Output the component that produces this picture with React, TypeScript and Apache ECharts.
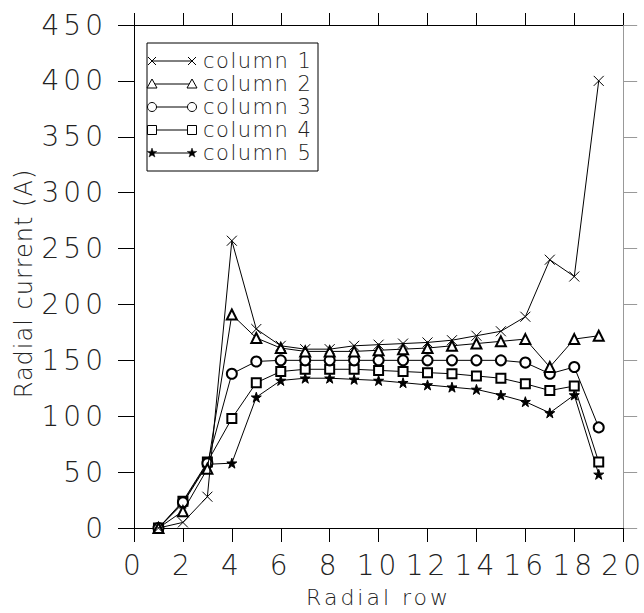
import React, { useEffect, useRef } from "react";
import * as echarts from "echarts";

const rows = [1, 2, 3, 4, 5, 6, 7, 8, 9, 10, 11, 12, 13, 14, 15, 16, 17, 18, 19];
const column1 = [0, 5, 28, 257, 178, 163, 160, 160, 163, 164, 165, 166, 168, 172, 176, 189, 240, 225, 400];
const column2 = [0, 15, 53, 191, 170, 161, 158, 158, 158, 159, 160, 161, 163, 165, 167, 169, 144, 169, 172];
const column3 = [0, 23, 58, 138, 149, 150, 150, 150, 150, 150, 150, 150, 150, 150, 150, 148, 138, 144, 90];
const column4 = [0, 24, 59, 98, 130, 140, 142, 142, 142, 141, 140, 139, 138, 136, 134, 129, 123, 127, 59];
const column5 = [0, 22, 57, 58, 117, 132, 134, 134, 133, 132, 130, 128, 126, 124, 119, 113, 103, 119, 48];
const seriesNames = ["column 1", "column 2", "column 3", "column 4", "column 5"];

const FONT = "DejaVu Sans";
const FW = 200;
const TXT = "#222";

const CROSS = "path://M0,0L10,10M10,0L0,10";
const STAR =
  "path://M5,0L6.2,3.6L10,3.6L6.9,5.9L8.1,9.5L5,7.3L1.9,9.5L3.1,5.9L0,3.6L3.8,3.6Z";

const symbols = [CROSS, "emptyTriangle", "emptyCircle", "emptyRect", STAR];
const symbolSizes = [10, 10, 10, 9, 10];

function starPoints(cx: number, cy: number, ro: number, ri: number) {
  const pts: number[][] = [];
  for (let i = 0; i < 10; i++) {
    const r = i % 2 === 0 ? ro : ri;
    const a = -Math.PI / 2 + (i * Math.PI) / 5;
    pts.push([cx + r * Math.cos(a), cy + r * Math.sin(a)]);
  }
  return pts;
}

function legendMarker(kind: number, cx: number, cy: number): any[] {
  const st = { stroke: "#000", lineWidth: 1, fill: "#fff" };
  if (kind === 0)
    return [
      { type: "line", shape: { x1: cx - 4, y1: cy - 4, x2: cx + 4, y2: cy + 4 }, style: { stroke: "#000", lineWidth: 1 } },
      { type: "line", shape: { x1: cx - 4, y1: cy + 4, x2: cx + 4, y2: cy - 4 }, style: { stroke: "#000", lineWidth: 1 } },
    ];
  if (kind === 1)
    return [{ type: "polygon", shape: { points: [[cx, cy - 5], [cx + 5, cy + 4], [cx - 5, cy + 4]] }, style: st }];
  if (kind === 2) return [{ type: "circle", shape: { cx, cy, r: 4.5 }, style: st }];
  if (kind === 3) return [{ type: "rect", shape: { x: cx - 4.5, y: cy - 4.5, width: 9, height: 9 }, style: st }];
  return [{ type: "polygon", shape: { points: starPoints(cx, cy, 5, 2) }, style: { fill: "#000", stroke: "#000", lineWidth: 0.5 } }];
}

function applyLetterSpacing(root: HTMLElement) {
  root.querySelectorAll("text").forEach((t) => {
    const s = (t.textContent || "").trim();
    let ls = 0;
    if (/^\d+$/.test(s)) ls = 4;
    else if (s === "Radial row") ls = 3;
    else if (s.startsWith("Radial current")) ls = 1;
    else if (s.startsWith("column")) ls = 1.5;
    if (ls) t.setAttribute("letter-spacing", String(ls));
  });
}

export default function App() {
  const ref = useRef<HTMLDivElement>(null);
  useEffect(() => {
    document.body.style.margin = "0";
    if (!ref.current) return;
    const chart = echarts.init(ref.current, null, { renderer: "svg" });
    const data = [column1, column2, column3, column4, column5];

    const rowY = [61, 84, 107, 130, 153];
    const graphics: any[] = [
      {
        type: "rect",
        shape: { x: 147, y: 43, width: 171, height: 128 },
        style: { fill: "#fff", stroke: "#000", lineWidth: 1 },
        z: 10,
      },
    ];
    seriesNames.forEach((name, i) => {
      const y = rowY[i];
      graphics.push({ type: "line", shape: { x1: 152, y1: y, x2: 192, y2: y }, style: { stroke: "#000", lineWidth: 1 }, z: 11 });
      legendMarker(i, 152, y).forEach((g) => graphics.push({ ...g, z: 12 }));
      legendMarker(i, 192, y).forEach((g) => graphics.push({ ...g, z: 12 }));
      graphics.push({
        type: "text",
        x: 203,
        y,
        style: { text: name, fontFamily: FONT, fontWeight: FW, fontSize: 21, fill: TXT, verticalAlign: "middle" },
        z: 12,
      });
    });

    chart.setOption({
      animation: false,
      backgroundColor: "#fff",
      grid: { left: 134, right: 17, top: 25, bottom: 75 },
      xAxis: [
        {
          type: "value",
          min: 0,
          max: 20,
          interval: 2,
          position: "bottom",
          name: "Radial row",
          nameLocation: "middle",
          nameGap: 58,
          nameTextStyle: { fontFamily: FONT, fontWeight: FW, fontSize: 22, color: TXT },
          axisLine: { show: true, onZero: false, lineStyle: { color: "#000", width: 1 } },
          axisTick: { show: true, inside: false, length: 14, lineStyle: { color: "#000" } },
          axisLabel: { fontFamily: FONT, fontWeight: FW, fontSize: 28, color: TXT, margin: 23 },
          splitLine: { show: false },
        },
        {
          type: "value",
          min: 0,
          max: 20,
          interval: 2,
          position: "top",
          axisLine: { show: true, onZero: false, lineStyle: { color: "#000", width: 1 } },
          axisTick: { show: true, inside: false, length: 12, lineStyle: { color: "#000" } },
          axisLabel: { show: false },
          splitLine: { show: false },
        },
      ],
      yAxis: [
        {
          type: "value",
          min: 0,
          max: 450,
          interval: 50,
          position: "left",
          name: "Radial current (A)",
          nameLocation: "middle",
          nameGap: 98,
          nameRotate: 90,
          nameTextStyle: { fontFamily: FONT, fontWeight: FW, fontSize: 24, color: TXT, padding: [0, 14, 0, 0] },
          axisLine: { show: true, onZero: false, lineStyle: { color: "#000", width: 1 } },
          axisTick: { show: true, inside: false, length: 16, lineStyle: { color: "#000" } },
          axisLabel: { fontFamily: FONT, fontWeight: FW, fontSize: 28, color: TXT, margin: 27, padding: [10, 0, 0, 0] },
          splitLine: { show: false },
        },
        {
          type: "value",
          min: 0,
          max: 450,
          interval: 50,
          position: "right",
          axisLine: { show: true, onZero: false, lineStyle: { color: "#999", width: 1 } },
          axisTick: { show: true, inside: false, length: 14, lineStyle: { color: "#999" } },
          axisLabel: { show: false },
          splitLine: { show: false },
        },
      ],
      series: seriesNames.map((name, i) => ({
        type: "line",
        name,
        xAxisIndex: 0,
        yAxisIndex: 0,
        data: rows.map((r, j) => [r, data[i][j]]),
        symbol: symbols[i],
        symbolSize: symbolSizes[i],
        showAllSymbol: true,
        lineStyle: { color: "#000", width: 1 },
        itemStyle: { color: "#000", borderColor: "#000", borderWidth: 1 },
        z: 5 - i,
      })),
      graphic: graphics,
    });
    applyLetterSpacing(ref.current);
    const onFinished = () => ref.current && applyLetterSpacing(ref.current);
    chart.on("finished", onFinished);
    return () => chart.dispose();
  }, []);
  return <div ref={ref} style={{ width: 644, height: 613 }} />;
}
